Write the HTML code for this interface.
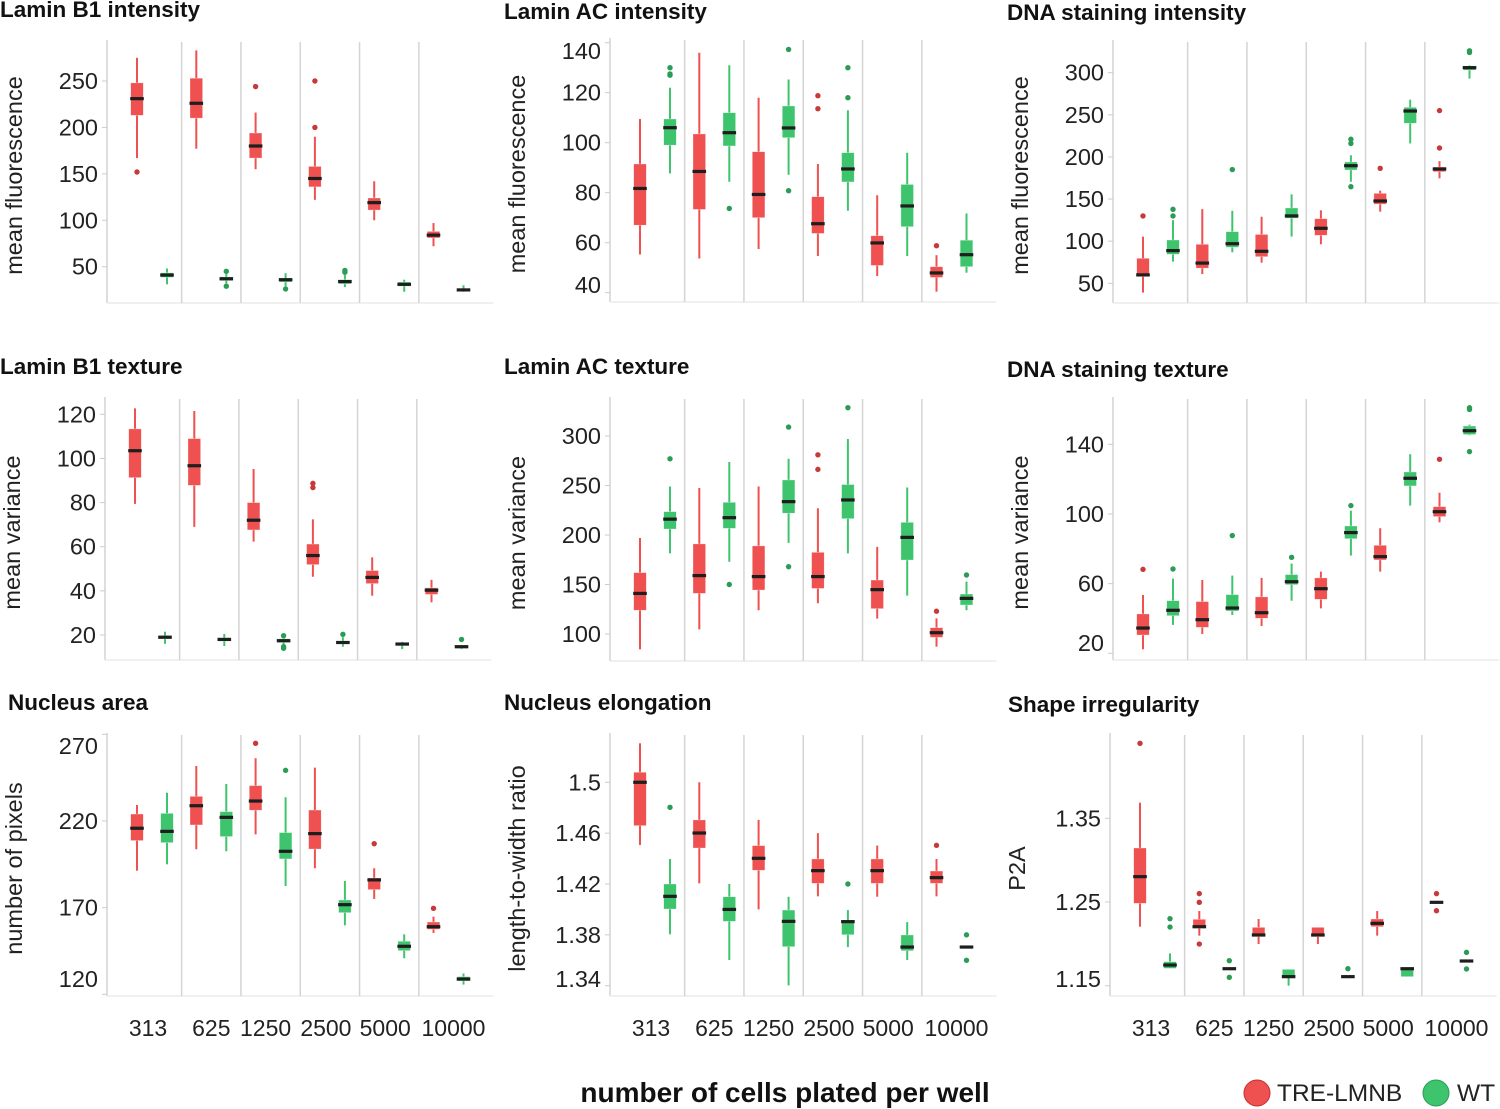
<!DOCTYPE html>
<html><head><meta charset="utf-8"><style>
html,body{margin:0;padding:0;background:#fff;}
svg{display:block;font-family:"Liberation Sans",Arial,sans-serif;}
</style></head><body>
<svg id="fig" width="1500" height="1109" viewBox="0 0 1500 1109" xmlns="http://www.w3.org/2000/svg"></svg>
<script>
// Categories
const categories = ["313","625","1250","2500","5000","10000"];
// Box stats: [min, q1, median, q3, max]
const lbiRed = [[167,213,231,248,275],[177,210,226,253,283],[155,167,180,194,216],[122,136,145,158,190],[100,111,119,124,142],[72,81,84,88,97]];
const lbiGreen = [[31,38.5,41,43.5,48],[32,35,37,39,42],[29,33.5,36,37.5,43],[28,31.5,34,36,41],[23,29,31,33.5,36],[23,23.5,25,26,30]];
const lbiRedOut = [[152],[],[244],[250,200],[],[]];
const lbiGreenOut = [[],[45,29],[26],[46,44],[],[]];

const laiRed = [[55.3,67,81.7,91.5,109.5],[53.7,73.3,88.5,103.5,136],[57.5,70,79.3,96.4,118],[54.7,63.7,67.6,78.4,91.5],[46.7,50.9,59.9,62.8,79],[40.4,46.1,47.9,50.4,55]];
const laiGreen = [[87.7,99,106,109.5,122],[84.4,98.7,104,112,131],[87.2,102,105.9,114.7,125.3],[72.8,84.3,89.5,96,113],[54.7,66.4,74.7,83.3,96],[48,50.4,55.2,61,71.7]];
const laiRedOut = [[],[],[],[118.8,113.6],[],[58.8]];
const laiGreenOut = [[130,127.5,127],[73.7],[137.3,80.8],[130,118],[],[]];

const dsiRed = [[39,57.9,60,79.7,105.4],[61,68,74,96.3,138],[74.5,81.6,88,108,129],[96.3,107,115.3,126.7,136.6],[135,144,147.7,156.8,160],[174.6,182.5,185.7,188,195]];
const dsiGreen = [[75.7,84.4,88.8,101.4,125],[86.8,92.7,97,111.3,136],[105.4,127.2,130,139.4,155.6],[170.6,184.5,189.6,194,202],[216,240,254.5,258.9,268],[293,303,306,308,308.7]];
const dsiRedOut = [[130],[],[],[],[186.5],[255,210.6]];
const dsiGreenOut = [[137.8,130],[185],[],[221,216,164.7],[],[326,324]];

const lbtRed = [[79.4,91.3,103.5,113.4,122.7],[69,87.8,96.7,109,121.5],[62.3,67.6,72,80,95.2],[46.4,51.9,56,61.2,72.4],[37.8,43.3,46.1,49.2,55.2],[34.8,38.4,40.3,41.4,45]];
const lbtGreen = [[16,18.2,19,19.7,21.5],[15,17.2,18,18.7,20.5],[15.5,16.6,17.4,18.3,19],[14.7,15.9,16.6,17.3,19],[13.6,15.2,15.9,16.6,16.9],[13.6,13.9,14.7,15.2,15.4]];
const lbtRedOut = [[],[],[],[88.7,86.8],[],[]];
const lbtGreenOut = [[],[],[19.7,14.7,14],[20.3],[],[18]];

const latRed = [[84.5,124,141,162,197],[104.7,141,159,191,247.5],[124,144.4,158,189,249],[131,146,158,182.5,227],[115.5,125.6,144.8,154.5,188],[87.2,96.6,101.3,106.4,115.8]];
const latGreen = [[181.5,206,216,223.6,249],[173,206.7,217.5,233,273.7],[192,222,233.7,255.6,277],[181.5,216.5,235.4,251,297],[138.7,174.7,197.6,212.8,248],[124,129.3,136,140.4,152.9]];
const latRedOut = [[],[],[],[281,266.3],[],[123]];
const latGreenOut = [[277],[150],[309,168],[328.6],[],[159.6]];

const dstRed = [[22.3,30.5,34.5,42.6,53.5],[31.1,34.9,39.3,49.7,62.1],[35.7,40.1,43.3,52.4,63.3],[45.8,51,57.1,63.3,66.9],[66.9,73.6,75.5,82,91.8],[95.2,98.5,101.3,104.2,112.2]];
const dstGreen = [[36.3,41.6,44.7,50.2,62.9],[42,44.3,46,53.7,64.6],[50.2,59.4,61.1,65.2,71.5],[76.1,85.8,89.3,93.1,101.9],[104.8,116.1,120.5,124.1,134.3],[145.2,145.6,147.8,150.5,151.3]];
const dstRedOut = [[68.2],[],[],[],[],[131.4]];
const dstGreenOut = [[68.4],[87.6],[75.1],[104.8],[],[161,160,135.8]];

const naRed = [[191.3,208.7,215.8,224,229.2],[203.7,217.7,228.8,234.2,251.7],[212.3,226.2,231.5,240.4,256.2],[192.7,203.8,212.7,226.3,250.8],[175,180.4,186,187.1,192.7],[155.4,157.5,159,161.7,164.8]];
const naGreen = [[195,207.5,214,224.4,236.3],[202.5,211,222.1,225.4,241.3],[182.5,198.1,202.5,213.3,233.7],[159.8,167.1,171.7,174.4,185.4],[140.8,145.2,147.7,150.6,154.6],[125.6,127.7,128.8,130.2,132]];
const naRedOut = [[],[],[264.8],[],[206.9],[169.6]];
const naGreenOut = [[],[],[249.2],[],[],[]];

const neRed = [[1.4507,1.4659,1.5,1.5079,1.5307],[1.4205,1.4483,1.4601,1.4704,1.5],[1.40,1.4308,1.4402,1.4502,1.4704],[1.4103,1.4205,1.4305,1.4397,1.46],[1.41,1.4205,1.4305,1.4397,1.4502],[1.4103,1.4205,1.425,1.4302,1.4397]];
const neGreen = [[1.3804,1.4003,1.4103,1.42,1.4397],[1.3602,1.3906,1.40,1.41,1.42],[1.3403,1.3707,1.3906,1.3995,1.41],[1.3704,1.3801,1.3904,1.3914,1.3995],[1.3602,1.3675,1.3704,1.3799,1.39],[1.3704,1.3704,1.3704,1.3704,1.3704]];
const neRedOut = [[],[],[],[],[],[1.4504]];
const neGreenOut = [[1.4803],[],[],[1.42],[],[1.38,1.36]];

const siRed = [[1.2205,1.2484,1.2803,1.3145,1.3687],[1.2098,1.2185,1.2205,1.2293,1.2392],[1.1998,1.2086,1.2106,1.2197,1.2297],[1.1998,1.2086,1.2106,1.2197,1.2197],[1.2098,1.2205,1.2245,1.2297,1.2392],[1.2496,1.2496,1.2496,1.2496,1.2496]];
const siGreen = [[1.1707,1.1707,1.1747,1.1787,1.1886],[1.1703,1.1703,1.1703,1.1703,1.1703],[1.15,1.16,1.1608,1.1695,1.1695],[1.1608,1.1608,1.1608,1.1608,1.1608],[1.1608,1.1608,1.1703,1.1707,1.1707],[1.1795,1.1795,1.1795,1.1795,1.1795]];
const siRedOut = [[1.4396],[1.26,1.2496,1.1998],[],[],[],[1.26,1.2396]];
const siGreenOut = [[1.2301,1.2201],[1.1799,1.16],[],[1.1703],[],[1.1898,1.17]];

// Tick labels
const lbiTicks = [50,100,150,200,250];
const laiTicks = [40,60,80,100,120,140];
const dsiTicks = [50,100,150,200,250,300];
const lbtTicks = [20,40,60,80,100,120];
const latTicks = [100,150,200,250,300];
const dstTicks = [20,60,100,140];
const naTicks = [120,170,220,270];
const neTicks = ["1.34","1.38","1.42","1.46","1.5"];
const siTicks = ["1.15","1.25","1.35"];

const NS = "http://www.w3.org/2000/svg";
const svg = document.getElementById("fig");
const RED = "#ef5050", GREEN = "#3ec46d", RED_OUT = "#c83a3a", GREEN_OUT = "#2a9c55";

function mk(tag, attrs, parent) {
  const e = document.createElementNS(NS, tag);
  for (const k in attrs) e.setAttribute(k, attrs[k]);
  (parent || svg).appendChild(e);
  return e;
}

const panels = [
  {key:"lamin-b1-intensity", title:"Lamin B1 intensity", tx:0, ty:17, ylab:"mean fluorescence", ax:107, top:40, base:303, v1:250, p1:81, v2:50, p2:266.7, ticks:lbiTicks, red:lbiRed, green:lbiGreen, ro:lbiRedOut, go:lbiGreenOut, xl:false},
  {key:"lamin-ac-intensity", title:"Lamin AC intensity", tx:504, ty:19, ylab:"mean fluorescence", ax:610, top:38, base:302, v1:140, p1:42.7, v2:40, p2:292.7, ticks:laiTicks, red:laiRed, green:laiGreen, ro:laiRedOut, go:laiGreenOut, xl:false},
  {key:"dna-staining-intensity", title:"DNA staining intensity", tx:1007, ty:20, ylab:"mean fluorescence", ax:1113, top:40, base:303, v1:300, p1:72.7, v2:50, p2:283.3, ticks:dsiTicks, red:dsiRed, green:dsiGreen, ro:dsiRedOut, go:dsiGreenOut, xl:false},
  {key:"lamin-b1-texture", title:"Lamin B1 texture", tx:0, ty:374, ylab:"mean variance", ax:105, top:397, base:660, v1:120, p1:414.3, v2:20, p2:635, ticks:lbtTicks, red:lbtRed, green:lbtGreen, ro:lbtRedOut, go:lbtGreenOut, xl:false},
  {key:"lamin-ac-texture", title:"Lamin AC texture", tx:504, ty:374, ylab:"mean variance", ax:610, top:397, base:661, v1:300, p1:436, v2:100, p2:634, ticks:latTicks, red:latRed, green:latGreen, ro:latRedOut, go:latGreenOut, xl:false},
  {key:"dna-staining-texture", title:"DNA staining texture", tx:1007, ty:377, ylab:"mean variance", ax:1113, top:397, base:660, v1:140, p1:444.3, v2:20, p2:653.3, ticks:dstTicks, red:dstRed, green:dstGreen, ro:dstRedOut, go:dstGreenOut, xl:false},
  {key:"nucleus-area", title:"Nucleus area", tx:8, ty:710, ylab:"number of pixels", ax:107, top:733, base:996, v1:270, p1:734.3, v2:120, p2:994.3, ticks:naTicks, red:naRed, green:naGreen, ro:naRedOut, go:naGreenOut, xl:true},
  {key:"nucleus-elongation", title:"Nucleus elongation", tx:504, ty:710, ylab:"length-to-width ratio", ax:610, top:733, base:996, v1:1.5, p1:782.3, v2:1.34, p2:985.7, ticks:neTicks, red:neRed, green:neGreen, ro:neRedOut, go:neGreenOut, xl:true},
  {key:"shape-irregularity", title:"Shape irregularity", tx:1008, ty:712, ylab:"P2A", ax:1110, top:733, base:996, v1:1.35, p1:818.3, v2:1.15, p2:985.7, ticks:siTicks, red:siRed, green:siGreen, ro:siRedOut, go:siGreenOut, xl:true}
];

const PITCH = 59.3, OFF = 15, BW = 12.6;
const catShift = [-4, 0, -5, -4, -4, 5];

panels.forEach(p => {
  const g = mk("g", {});
  
  
  const y = v => p.p1 + (v - p.v1) * (p.p2 - p.p1) / (p.v2 - p.v1);
  const cx = i => p.ax + 45 + i * PITCH;
  const right = p.ax + 45 + 5 * PITCH + 45;

  const t = mk("text", {x:p.tx, y:p.ty, "font-size":22.5, "font-weight":"bold", fill:"#111"}, g);
  t.textContent = p.title;
  
  

  const yl = mk("text", {x:0, y:0, "font-size":23.5, fill:"#222", "text-anchor":"middle", transform:`translate(${p.ax - 85},${(p.top + p.base) / 2 + 4}) rotate(-90)`}, g);
  yl.textContent = p.ylab;
  
  

  const ya = mk("line", {x1:p.ax, y1:p.top, x2:p.ax, y2:p.base, stroke:"#d4d4d4", "stroke-width":1.5}, g);
  
  
  const xa = mk("line", {x1:p.ax, y1:p.base, x2:right, y2:p.base, stroke:"#ebebeb", "stroke-width":1.5}, g);
  
  

  for (let i = 0; i < categories.length - 1; i++) {
    const sx = cx(i) + PITCH / 2;
    const sep = mk("line", {x1:sx, y1:p.top + 2, x2:sx, y2:p.base, stroke:"#d4d4d4", "stroke-width":1.5}, g);
    
    
  }

  p.ticks.forEach(tv => {
    const v = parseFloat(tv);
    const ty = y(v);
    const tk = mk("line", {x1:p.ax - 5, y1:ty, x2:p.ax, y2:ty, stroke:"#ccc", "stroke-width":1}, g);
    
    
    const ly = Math.max(p.top + 13, Math.min(p.base - 17, ty));
    const lb = mk("text", {x:p.ax - 9, y:ly + 8, "font-size":23.5, fill:"#222", "text-anchor":"end"}, g);
    lb.textContent = String(tv);
    
    
  });

  if (p.xl) {
    categories.forEach((c, i) => {
      const lb = mk("text", {x:cx(i) + catShift[i], y:1036, "font-size":23, fill:"#222", "text-anchor":"middle"}, g);
      lb.textContent = c;
      
      
    });
  }

  function box(st, outs, x, col, ocol, name) {
    const bg = mk("g", {}, g);
    
    
    const [mn, q1, md, q3, mx] = st;
    mk("line", {x1:x, y1:y(mx), x2:x, y2:y(mn), stroke:col, "stroke-width":2}, bg);
    const h = Math.max(0, y(q1) - y(q3));
    if (h > 0) mk("rect", {x:x - BW / 2, y:y(q3), width:BW, height:h, fill:col, stroke:"#fff", "stroke-opacity":0.5, "stroke-width":0.6}, bg);
    mk("rect", {x:x - BW / 2 - 0.5, y:y(md) - 1.6, width:BW + 1, height:3.2, fill:"#1e1e1e"}, bg);
    outs.forEach(o => {
      const c = mk("circle", {cx:x, cy:y(o), r:2.7, fill:ocol}, bg);
      
      
    });
  }
  categories.forEach((c, i) => {
    box(p.red[i], p.ro[i], cx(i) - OFF, RED, RED_OUT, 'box-tre-lmnb-' + c);
    box(p.green[i], p.go[i], cx(i) + OFF, GREEN, GREEN_OUT, 'box-wt-' + c);
  });
});

const xt = mk("text", {x:785, y:1102, "font-size":28, "font-weight":"bold", fill:"#111", "text-anchor":"middle"});
xt.textContent = "number of cells plated per well";



const lg = mk("g", {});


const l1 = mk("g", {}, lg);


mk("circle", {cx:1257, cy:1093, r:13, fill:RED, stroke:"#c03030", "stroke-width":1}, l1);
const lt1 = mk("text", {x:1277, y:1101, "font-size":24.5, fill:"#222"}, l1);
lt1.textContent = "TRE-LMNB";
const l2 = mk("g", {}, lg);


mk("circle", {cx:1436, cy:1093, r:13, fill:GREEN, stroke:"#2a9c55", "stroke-width":1}, l2);
const lt2 = mk("text", {x:1457, y:1101, "font-size":24.5, fill:"#222"}, l2);
lt2.textContent = "WT";
</script>
</body></html>
